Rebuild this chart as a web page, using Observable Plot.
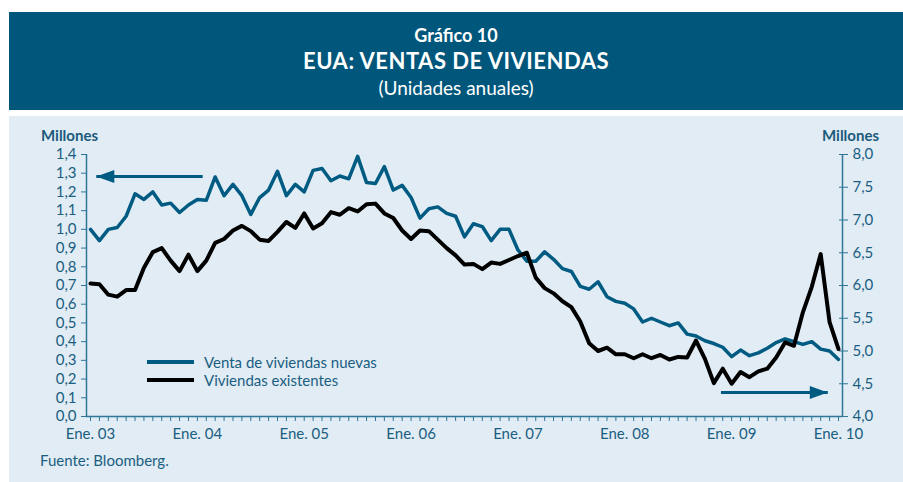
<!DOCTYPE html>
<html><head><meta charset="utf-8">
<script src="https://cdn.jsdelivr.net/npm/d3@7"></script>
<script src="https://cdn.jsdelivr.net/npm/@observablehq/plot@0.6"></script>
<style>
body{margin:0;background:#fff;}
#page{position:relative;width:903px;height:482px;overflow:hidden;font-family:"Lato","Open Sans",sans-serif;color:#1a5e82;}
#banner{position:absolute;left:9px;top:12px;width:894px;height:98px;background:#00567b;color:#fff;text-align:center;}
#banner div{position:absolute;left:0;right:0;line-height:1;}
#t1{top:14px;font:bold 18px "Lato","Open Sans",sans-serif;}
#t2{top:38px;font:bold 22px "Lato","Open Sans",sans-serif;letter-spacing:0.5px;}
#t3{top:66px;font:19px "Lato","Open Sans",sans-serif;}
#panel{position:absolute;left:9px;top:116px;width:894px;height:366px;background:#e1ecf4;}
#chart{position:absolute;left:0;top:116px;}
.lab{position:absolute;line-height:1;white-space:nowrap;}
.mil{font-weight:bold;font-size:15px;top:128px;color:#1b5a7c;}
.leg{font-size:15px;left:204px;}
.sw{position:absolute;left:147px;width:47px;height:4px;}
</style></head>
<body><div id="page">
<div id="banner"><div id="t1">Gráfico 10</div><div id="t2">EUA: VENTAS DE VIVIENDAS</div><div id="t3">(Unidades anuales)</div></div>
<div id="panel"></div>
<div id="chart"></div>
<div class="lab mil" style="left:41px">Millones</div>
<div class="lab mil" style="left:822px">Millones</div>
<div class="sw" style="top:360px;background:#005b82"></div>
<div class="sw" style="top:378px;background:#000"></div>
<div class="lab leg" style="top:355px">Venta de viviendas nuevas</div>
<div class="lab leg" style="top:373px">Viviendas existentes</div>
<div class="lab" style="left:40px;top:453px;font-size:15px">Fuente: Bloomberg.</div>
</div>
<script>
// Monthly series, Jan 2003 .. Jan 2010 (millions, annual rate)
const nuevas = [1.00,0.94,1.00,1.01,1.07,1.19,1.16,1.20,1.13,1.14,1.09,1.13,
 1.16,1.155,1.28,1.18,1.24,1.18,1.08,1.17,1.21,1.31,1.18,1.24,
 1.20,1.315,1.325,1.26,1.285,1.27,1.39,1.25,1.245,1.335,1.21,1.235,
 1.17,1.06,1.11,1.12,1.085,1.07,0.96,1.03,1.015,0.94,1.00,1.00,
 0.89,0.83,0.83,0.88,0.84,0.79,0.775,0.695,0.68,0.72,0.64,0.615,
 0.605,0.575,0.505,0.525,0.505,0.485,0.50,0.44,0.43,0.405,0.39,0.37,
 0.32,0.355,0.325,0.34,0.365,0.395,0.415,0.40,0.385,0.40,0.36,0.35,0.305];
const existentes = [6.03,6.02,5.86,5.83,5.93,5.93,6.27,6.51,6.57,6.38,6.22,6.47,
 6.22,6.38,6.65,6.71,6.84,6.91,6.83,6.70,6.68,6.82,6.97,6.88,
 7.10,6.87,6.95,7.12,7.08,7.18,7.13,7.24,7.25,7.10,7.03,6.84,
 6.71,6.84,6.83,6.70,6.57,6.46,6.32,6.33,6.25,6.35,6.33,6.39,
 6.45,6.50,6.12,5.96,5.88,5.76,5.67,5.45,5.12,5.00,5.05,4.95,
 4.95,4.89,4.95,4.89,4.94,4.87,4.91,4.90,5.16,4.88,4.51,4.73,
 4.50,4.68,4.60,4.69,4.73,4.90,5.13,5.08,5.59,5.98,6.48,5.44,5.03];
const yearLabels = ["Ene. 03","Ene. 04","Ene. 05","Ene. 06","Ene. 07","Ene. 08","Ene. 09","Ene. 10"];
const leftTicks = [0,0.1,0.2,0.3,0.4,0.5,0.6,0.7,0.8,0.9,1.0,1.1,1.2,1.3,1.4];
const rightTicks = [4.0,4.5,5.0,5.5,6.0,6.5,7.0,7.5,8.0];
// annotation arrows (month index, value on its own axis)
const arrowLeft = {from: 12.6, to: 0.65, value: 1.283};
const arrowRight = {from: 70.8, to: 82.8, value: 4.365};

const L0 = 0, L1 = 1.4, R0 = 4, R1 = 8;
const toLeft = v => L0 + (v - R0) * (L1 - L0) / (R1 - R0);
const months = nuevas.map((_, i) => i);
const dNuevas = nuevas.map((v, i) => ({i, v}));
const dExist = existentes.map((v, i) => ({i, v: toLeft(v)}));
const yearTicks = yearLabels.map((_, k) => k * 12);
const fmt = d => d.toFixed(1).replace(".", ",");
const BLUE = "#005b82", AX = "#2f7699", TXT = "#1a5e82";
const arrows = [
  {x1: arrowLeft.from, x2: arrowLeft.to, y: arrowLeft.value, rot: 180},
  {x1: arrowRight.from, x2: arrowRight.to, y: toLeft(arrowRight.value), rot: 0}
];
const head = {draw(ctx) { ctx.moveTo(0, 0); ctx.lineTo(-18, -6.5); ctx.lineTo(-18, 6.5); ctx.closePath(); }};

const chart = Plot.plot({
  width: 903, height: 366,
  marginLeft: 86, marginRight: 61, marginTop: 38, marginBottom: 66,
  style: {background: "transparent", fontFamily: '"Lato","Open Sans",sans-serif', fontSize: "15px", overflow: "visible"},
  x: {domain: [-0.45, 84.45], axis: null},
  y: {domain: [L0, L1], axis: null},
  marks: [
    Plot.ruleX([-0.45, 84.45], {y1: L0, y2: L1, stroke: AX, strokeWidth: 1.5}),
    Plot.ruleY([L0], {stroke: AX, strokeWidth: 1.5}),
    Plot.axisY(leftTicks, {anchor: "left", tickSize: 5, tickPadding: 5, tickFormat: fmt, stroke: AX, fill: TXT, label: null}),
    Plot.axisY(rightTicks.map(toLeft), {anchor: "right", tickSize: 9, dx: -4, tickPadding: 5, tickFormat: d => fmt(R0 + (d - L0) * (R1 - R0) / (L1 - L0)), stroke: AX, fill: TXT, label: null}),
    Plot.axisX(months, {anchor: "bottom", tickSize: 5, stroke: AX, fill: "none", label: null}),
    Plot.axisX(yearTicks, {anchor: "bottom", tickSize: 0, tickPadding: 12, tickFormat: d => yearLabels[yearTicks.indexOf(d)], fill: TXT, label: null}),
    Plot.line(dNuevas, {x: "i", y: "v", stroke: BLUE, strokeWidth: 3.5}),
    Plot.line(dExist, {x: "i", y: "v", stroke: "#000", strokeWidth: 4}),
    Plot.link(arrows, {x1: "x1", x2: "x2", y1: "y", y2: "y", stroke: BLUE, strokeWidth: 3}),
    Plot.dot(arrows, {x: "x2", y: "y", symbol: head, r: 5, fill: BLUE, stroke: "none", rotate: "rot"})
  ]
});
document.getElementById("chart").appendChild(chart);
</script>
</body></html>
